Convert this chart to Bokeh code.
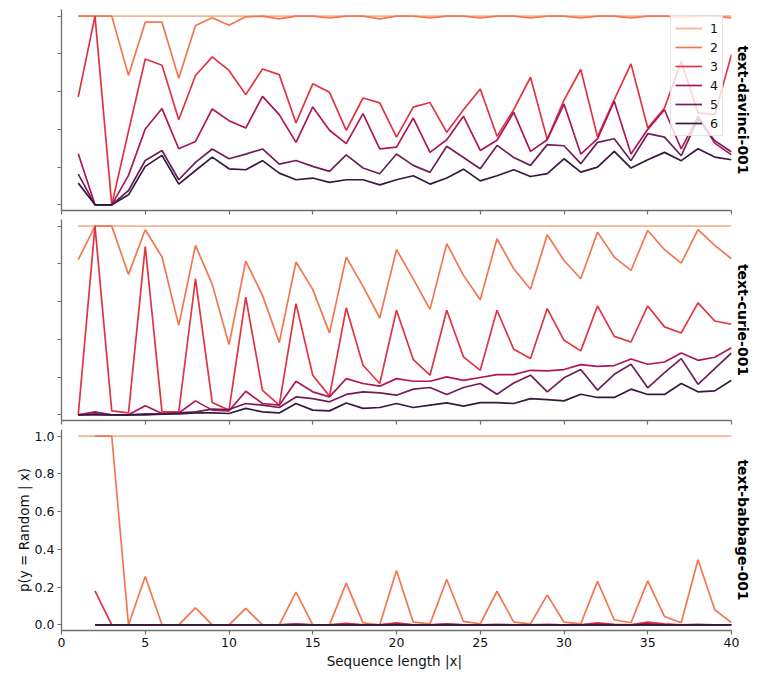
import numpy as np
from bokeh.plotting import figure
from bokeh.models import Range1d, FixedTicker, Legend, LegendItem, Title, CustomJSTickFormatter, PrintfTickFormatter, ColumnDataSource
from bokeh.layouts import column
from bokeh.embed import file_html
from bokeh.resources import INLINE

nan = float("nan")

seq_len = list(range(1, 41))
series_names = ["1", "2", "3", "4", "5", "6"]
colors = ["#f6b48f", "#f37651", "#e13342", "#ad1759", "#701f57", "#35193e"]
model_names = ["text-davinci-001", "text-curie-001", "text-babbage-001"]
x_ticks = [0, 5, 10, 15, 20, 25, 30, 35, 40]
y_ticks = [0.0, 0.2, 0.4, 0.6, 0.8, 1.0]

# ---- text-davinci-001 ----
davinci_1 = [1.0, 1.0, 1.0, 1.0, 1.0, 1.0, 1.0, 1.0, 1.0, 1.0,
             1.0, 1.0, 1.0, 1.0, 1.0, 1.0, 1.0, 1.0, 1.0, 1.0,
             1.0, 1.0, 1.0, 1.0, 1.0, 1.0, 1.0, 1.0, 1.0, 1.0,
             1.0, 1.0, 1.0, 1.0, 1.0, 1.0, 1.0, 1.0, 1.0, 1.0]
davinci_2 = [1.0, 1.0, 1.0, 0.685, 0.968, 0.968, 0.671, 0.950, 0.991, 0.952,
             0.996, 1.0, 0.985, 1.0, 1.0, 0.99, 1.0, 1.0, 0.985, 1.0,
             1.0, 0.99, 1.0, 1.0, 0.99, 1.0, 1.0, 0.99, 1.0, 1.0,
             0.99, 1.0, 1.0, 0.99, 1.0, 1.0, 0.995, 1.0, 1.0, 0.99]
davinci_3 = [0.572, 1.0, 0.0, 0.39, 0.773, 0.740, 0.451, 0.685, 0.784, 0.712,
             0.584, 0.720, 0.690, 0.434, 0.641, 0.596, 0.395, 0.566, 0.540, 0.359,
             0.518, 0.542, 0.384, 0.504, 0.614, 0.363, 0.504, 0.676, 0.347, 0.555,
             0.717, 0.360, 0.558, 0.747, 0.407, 0.513, 0.761, 0.487, 0.478, 0.796]
davinci_4 = [0.271, 0.0, 0.0, 0.156, 0.402, 0.510, 0.297, 0.336, 0.508, 0.446,
             0.407, 0.575, 0.478, 0.331, 0.519, 0.395, 0.324, 0.483, 0.297, 0.306,
             0.460, 0.278, 0.345, 0.469, 0.288, 0.342, 0.490, 0.283, 0.345, 0.534,
             0.269, 0.350, 0.549, 0.269, 0.400, 0.504, 0.296, 0.469, 0.327, 0.265]
davinci_5 = [0.163, 0.0, 0.0, 0.076, 0.235, 0.288, 0.133, 0.225, 0.296, 0.244,
             0.269, 0.296, 0.216, 0.235, 0.204, 0.177, 0.265, 0.195, 0.165, 0.269,
             0.209, 0.172, 0.310, 0.251, 0.191, 0.315, 0.251, 0.209, 0.319, 0.313,
             0.218, 0.331, 0.350, 0.234, 0.377, 0.359, 0.260, 0.455, 0.340, 0.280]
davinci_6 = [0.115, 0.0, 0.0, 0.053, 0.204, 0.262, 0.110, 0.182, 0.253, 0.191,
             0.186, 0.234, 0.168, 0.133, 0.142, 0.119, 0.133, 0.133, 0.106, 0.133,
             0.154, 0.110, 0.142, 0.189, 0.127, 0.154, 0.186, 0.150, 0.165, 0.244,
             0.173, 0.200, 0.283, 0.195, 0.239, 0.278, 0.234, 0.297, 0.253, 0.239]

# ---- text-curie-001 ----
curie_1 = [1.0, 1.0, 1.0, 1.0, 1.0, 1.0, 1.0, 1.0, 1.0, 1.0,
           1.0, 1.0, 1.0, 1.0, 1.0, 1.0, 1.0, 1.0, 1.0, 1.0,
           1.0, 1.0, 1.0, 1.0, 1.0, 1.0, 1.0, 1.0, 1.0, 1.0,
           1.0, 1.0, 1.0, 1.0, 1.0, 1.0, 1.0, 1.0, 1.0, 1.0]
curie_2 = [0.822, 1.0, 1.0, 0.744, 0.981, 0.836, 0.474, 0.898, 0.691, 0.372,
           0.815, 0.633, 0.383, 0.810, 0.665, 0.434, 0.836, 0.681, 0.513, 0.875,
           0.720, 0.559, 0.907, 0.739, 0.610, 0.933, 0.774, 0.665, 0.954, 0.818,
           0.721, 0.968, 0.836, 0.765, 0.977, 0.875, 0.804, 0.981, 0.898, 0.827]
curie_3 = [0.0, 1.0, 0.021, 0.010, 0.892, 0.016, 0.016, 0.721, 0.065, 0.025,
           0.624, 0.130, 0.051, 0.589, 0.210, 0.099, 0.568, 0.263, 0.166, 0.554,
           0.293, 0.210, 0.554, 0.307, 0.236, 0.554, 0.347, 0.298, 0.563, 0.395,
           0.339, 0.577, 0.416, 0.386, 0.577, 0.466, 0.434, 0.593, 0.497, 0.480]
curie_4 = [0.0, 0.016, 0.0, 0.0, 0.048, 0.007, 0.010, 0.074, 0.025, 0.021,
           0.125, 0.060, 0.051, 0.178, 0.122, 0.095, 0.192, 0.166, 0.152, 0.192,
           0.178, 0.178, 0.201, 0.183, 0.198, 0.213, 0.213, 0.236, 0.233, 0.240,
           0.266, 0.257, 0.261, 0.296, 0.268, 0.280, 0.328, 0.289, 0.305, 0.356]
curie_5 = [0.0, 0.005, 0.0, 0.0, 0.005, 0.005, 0.010, 0.016, 0.030, 0.028,
           0.060, 0.051, 0.039, 0.095, 0.086, 0.069, 0.108, 0.122, 0.116, 0.104,
           0.136, 0.145, 0.108, 0.145, 0.166, 0.109, 0.169, 0.210, 0.122, 0.196,
           0.240, 0.131, 0.215, 0.268, 0.143, 0.224, 0.298, 0.162, 0.245, 0.328]
curie_6 = [0.0, 0.0, 0.0, 0.0, 0.0, 0.003, 0.005, 0.010, 0.010, 0.007,
           0.034, 0.016, 0.010, 0.060, 0.025, 0.021, 0.063, 0.034, 0.039, 0.060,
           0.039, 0.051, 0.063, 0.046, 0.065, 0.065, 0.060, 0.086, 0.081, 0.074,
           0.109, 0.092, 0.092, 0.136, 0.108, 0.108, 0.166, 0.122, 0.127, 0.183]

# ---- text-babbage-001 ----
babbage_1 = [1.0, 1.0, 1.0, 1.0, 1.0, 1.0, 1.0, 1.0, 1.0, 1.0,
             1.0, 1.0, 1.0, 1.0, 1.0, 1.0, 1.0, 1.0, 1.0, 1.0,
             1.0, 1.0, 1.0, 1.0, 1.0, 1.0, 1.0, 1.0, 1.0, 1.0,
             1.0, 1.0, 1.0, 1.0, 1.0, 1.0, 1.0, 1.0, 1.0, 1.0]
babbage_2 = [nan, 1.0, 1.0, 0.0, 0.256, 0.0, 0.0, 0.090, 0.0, 0.0,
             0.087, 0.0, 0.0, 0.173, 0.0, 0.0, 0.221, 0.010, 0.0, 0.288,
             0.014, 0.005, 0.240, 0.018, 0.005, 0.178, 0.014, 0.005, 0.159, 0.014,
             0.005, 0.230, 0.027, 0.011, 0.233, 0.044, 0.011, 0.345, 0.080, 0.012]
babbage_3 = [nan, 0.180, 0.0, 0.0, 0.0, 0.0, 0.0, 0.0, 0.0, 0.0,
             0.0, 0.0, 0.0, 0.005, 0.0, 0.0, 0.008, 0.0, 0.0, 0.010,
             0.0, 0.0, 0.005, 0.0, 0.0, 0.003, 0.0, 0.0, 0.003, 0.0,
             0.0, 0.010, 0.003, 0.0, 0.015, 0.005, 0.0, 0.003, 0.0, 0.0]
babbage_4 = [nan, 0.0, 0.0, 0.0, 0.0, 0.0, 0.0, 0.0, 0.0, 0.0,
             0.0, 0.0, 0.0, 0.002, 0.0, 0.0, 0.003, 0.0, 0.0, 0.004,
             0.0, 0.0, 0.002, 0.0, 0.0, 0.0, 0.0, 0.0, 0.0, 0.0,
             0.0, 0.004, 0.0, 0.0, 0.006, 0.0, 0.0, 0.0, 0.0, 0.0]
babbage_5 = [nan, 0.0, 0.0, 0.0, 0.0, 0.0, 0.0, 0.0, 0.0, 0.0,
             0.0, 0.0, 0.0, 0.0, 0.0, 0.0, 0.0, 0.0, 0.0, 0.0,
             0.0, 0.0, 0.0, 0.0, 0.0, 0.0, 0.0, 0.0, 0.0, 0.0,
             0.0, 0.0, 0.0, 0.0, 0.0, 0.0, 0.0, 0.0, 0.0, 0.0]
babbage_6 = [nan, 0.0, 0.0, 0.0, 0.0, 0.0, 0.0, 0.0, 0.0, 0.0,
             0.0, 0.0, 0.0, 0.0, 0.0, 0.0, 0.0, 0.0, 0.0, 0.0,
             0.0, 0.0, 0.0, 0.0, 0.0, 0.0, 0.0, 0.0, 0.0, 0.0,
             0.0, 0.0, 0.0, 0.0, 0.0, 0.0, 0.0, 0.0, 0.0, 0.0]

panels = [
    (model_names[0], [davinci_1, davinci_2, davinci_3, davinci_4, davinci_5, davinci_6]),
    (model_names[1], [curie_1, curie_2, curie_3, curie_4, curie_5, curie_6]),
    (model_names[2], [babbage_1, babbage_2, babbage_3, babbage_4, babbage_5, babbage_6]),
]

FONT = "DejaVu Sans"
AX = "#6e6e6e"

figs = []
for i, (name, series) in enumerate(panels):
    last = i == len(panels) - 1
    p = figure(frame_width=670, frame_height=201,
               x_range=Range1d(0, 40), y_range=Range1d(-0.03, 1.035),
               output_backend="svg", toolbar_location=None,
               min_border_left=61, min_border_right=0,
               min_border_top=9 if i == 0 else 4,
               min_border_bottom=5)
    p.outline_line_color = None
    p.xgrid.grid_line_color = None
    p.ygrid.grid_line_color = None
    p.background_fill_color = "white"

    renderers = []
    for k, vals in enumerate(series):
        src = ColumnDataSource(dict(x=seq_len, y=np.array(vals, dtype=float)))
        r = p.line("x", "y", source=src, line_color=colors[k], line_width=1.7)
        renderers.append(r)

    for ax in (p.xaxis[0], p.yaxis[0]):
        ax.axis_line_color = AX
        ax.axis_line_width = 1.3
        ax.major_tick_line_color = AX
        ax.major_tick_line_width = 1.2
        ax.major_tick_out = 4
        ax.major_tick_in = 0
        ax.minor_tick_line_color = None
        ax.major_label_text_font = FONT
        ax.major_label_text_font_size = "12.5px"
        ax.major_label_text_color = "#111111"
        ax.major_label_standoff = 3
        ax.axis_label_text_font = FONT
        ax.axis_label_text_font_size = "13.5px"
        ax.axis_label_text_font_style = "normal"
        ax.axis_label_text_color = "#111111"

    p.xaxis.ticker = FixedTicker(ticks=x_ticks)
    p.yaxis.ticker = FixedTicker(ticks=y_ticks)

    if last:
        p.yaxis.formatter = PrintfTickFormatter(format="%.1f")
        p.xaxis.axis_label = "Sequence length  |x|"
        p.yaxis.axis_label = "p(y = Random | x)"
        p.xaxis.axis_label_standoff = 3
        p.yaxis.axis_label_standoff = 0
    else:
        blank = CustomJSTickFormatter(code="return ''")
        p.xaxis.formatter = blank
        p.yaxis.formatter = blank
        p.xaxis.major_label_text_font_size = "0px"
        p.yaxis.major_label_text_font_size = "0px"
        p.xaxis.major_label_standoff = 0
        p.yaxis.major_label_standoff = 0

    t = Title(text=name, align="center", text_font=FONT, text_font_size="14px",
              text_font_style="bold", text_color="#000000", standoff=7, offset=0)
    p.add_layout(t, "right")

    if i == 0:
        items = [LegendItem(label=series_names[k], renderers=[renderers[k]]) for k in range(6)]
        leg = Legend(items=items, location=(609, 74))
        leg.label_text_font = FONT
        leg.label_text_font_size = "12.5px"
        leg.label_text_color = "#111111"
        leg.glyph_width = 27
        leg.glyph_height = 16
        leg.label_height = 16
        leg.label_width = 4
        leg.label_standoff = 8
        leg.spacing = 3
        leg.padding = 4
        leg.margin = 0
        leg.background_fill_color = "white"
        leg.background_fill_alpha = 0.8
        leg.border_line_color = "#cccccc"
        leg.border_line_width = 1
        p.add_layout(leg)

    figs.append(p)

layout = column(*figs, spacing=0)
open("out.html", "w").write(file_html(layout, INLINE))
